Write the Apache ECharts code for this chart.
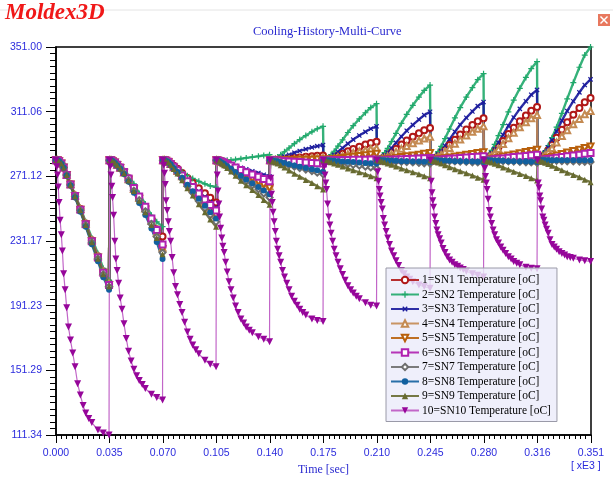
<!DOCTYPE html>
<html>
<head>
<meta charset="utf-8">
<script src="https://cdn.jsdelivr.net/npm/echarts@6/dist/echarts.min.js"></script>
<style>
  html, body { margin: 0; padding: 0; background: #fff; }
  #chart { width: 613px; height: 481px; }
</style>
</head>
<body>
<div id="chart"></div>
<script>
// time offsets inside one cycle (sec) and cycle start times (sec)
const T = [0, 1, 2, 3.5, 5, 7, 9.5, 12.5, 16, 19.5, 23.5, 27.5, 31, 34.8];
// SN10 is sampled more densely
const T10 = [0, 0.5, 1, 1.5, 2, 2.7, 3.5, 4.2, 5, 6, 7, 8.2, 9.5, 11, 12.5, 14.2, 16, 17.8, 19.5, 21.5, 23.5, 27.5, 31, 34.8];
const cycleStart = [0, 35.1, 70.2, 105.3, 140.4, 175.5, 210.6, 245.7, 280.8, 315.9];

const xTickLabels = ['0.000', '0.035', '0.070', '0.105', '0.140', '0.175', '0.210', '0.245', '0.280', '0.316', '0.351'];
const yTickLabels = ['111.34', '151.29', '191.23', '231.17', '271.12', '311.06', '351.00'];

const seriesNames = [
  '1=SN1 Temperature [oC]', '2=SN2 Temperature [oC]', '3=SN3 Temperature [oC]',
  '4=SN4 Temperature [oC]', '5=SN5 Temperature [oC]', '6=SN6 Temperature [oC]',
  '7=SN7 Temperature [oC]', '8=SN8 Temperature [oC]', '9=SN9 Temperature [oC]',
  '10=SN10 Temperature [oC]'
];

// temperatures, one row per cycle
const sn1 = [
  [281, 281, 280.5, 279, 276.6, 272.1, 266.2, 259.3, 250.9, 242, 231.7, 221.8, 212.4, 205],
  [281, 281, 280.6, 279.8, 278.6, 276.8, 274, 270, 264, 258, 251.5, 244.5, 238.5, 234],
  [281, 281, 280.7, 280.2, 279.2, 277.6, 275.8, 273.2, 270.1, 267.2, 263.8, 260.7, 257.9, 255],
  [281, 280.8, 280.5, 279.9, 279.3, 278.4, 277.1, 275.6, 273.9, 272.3, 270.6, 268.9, 267.2, 265.5],
  [281, 281, 281.1, 281.2, 281.3, 281.5, 281.8, 282.1, 282.5, 282.8, 283.2, 283.5, 283.8, 284],
  [281, 281.1, 281.3, 281.7, 282.2, 282.8, 283.9, 285.1, 286.6, 288, 289.4, 290.7, 291.7, 292.5],
  [281, 281.2, 281.5, 282.2, 283, 284.2, 286, 288.2, 290.8, 293.2, 295.6, 297.8, 299.6, 301],
  [281, 281.3, 281.7, 282.6, 283.6, 285.2, 287.5, 290.4, 293.7, 296.9, 300, 302.8, 305.2, 307],
  [281, 281.3, 281.8, 283, 284.3, 286.3, 289.3, 292.9, 297.2, 301.1, 305.1, 308.7, 311.7, 314],
  [281, 281.4, 282, 283.3, 284.9, 287.2, 290.6, 294.9, 299.9, 304.5, 309.1, 313.3, 316.8, 319.5]
];
const sn2 = [
  [281, 281, 280.6, 279.1, 276.7, 272.3, 266.6, 259.8, 251.7, 243, 233, 223.4, 214.2, 207],
  [281, 281, 280.5, 280, 279, 277, 274.5, 271, 266.5, 260.5, 254, 247, 243, 240],
  [281, 281, 280.8, 280.3, 279.5, 278, 276.3, 274, 271.5, 269.8, 268, 266.5, 265.2, 264.5],
  [281, 281, 281, 281, 281, 281, 281.2, 281.5, 282, 282.5, 283, 283.5, 284, 284.5],
  [281, 281.2, 281.5, 282.3, 283.1, 284.4, 286.3, 288.6, 291.3, 293.8, 296.3, 298.6, 300.5, 302],
  [281, 281.4, 281.9, 283.1, 284.5, 286.6, 289.8, 293.6, 298.2, 302.4, 306.6, 310.4, 313.6, 316],
  [281, 281.5, 282.2, 283.8, 285.7, 288.4, 292.6, 297.7, 303.8, 309.4, 315, 320.1, 324.2, 327.5],
  [281, 281.5, 282.3, 284.2, 286.4, 289.6, 294.4, 300.3, 307.2, 313.6, 320.1, 325.9, 330.8, 334.5],
  [281, 281.6, 282.5, 284.7, 287.1, 290.8, 296.3, 303, 310.9, 318.2, 325.5, 332.2, 337.7, 342],
  [281, 281.5, 282.3, 284.2, 286.5, 290, 295, 301.5, 310, 319, 329, 338.5, 346, 351]
];
const sn3 = [
  [281, 281, 280.5, 279, 276.5, 272, 266, 259, 250.6, 241.6, 231.2, 221.3, 211.9, 204.5],
  [281, 281, 280.5, 279.6, 278.2, 276.4, 273.7, 269.6, 263.6, 258.2, 251.7, 244.4, 237.1, 228],
  [281, 281, 280.7, 280.1, 279, 277.2, 275.2, 272.3, 268.8, 265.6, 261.9, 258.4, 255.2, 252],
  [281, 280.9, 280.7, 280.3, 279.9, 279.3, 278.5, 277.5, 276.4, 275.4, 274.3, 273.2, 272.1, 271],
  [281, 281.1, 281.2, 281.6, 282, 282.5, 283.4, 284.4, 285.7, 286.8, 287.9, 289, 289.8, 290.5],
  [281, 281.2, 281.5, 282.3, 283.1, 284.4, 286.3, 288.6, 291.3, 293.8, 296.3, 298.6, 300.5, 302],
  [281, 281.3, 281.8, 282.8, 284, 285.8, 288.5, 291.8, 295.7, 299.3, 302.9, 306.2, 308.9, 311],
  [281, 281.4, 281.9, 283.2, 284.6, 286.8, 290, 294, 298.6, 303, 307.3, 311.2, 314.5, 317],
  [281, 281.4, 282.1, 283.6, 285.4, 288, 291.9, 296.7, 302.3, 307.5, 312.8, 317.5, 321.5, 324.5],
  [281, 281.5, 282.3, 284, 286, 289, 293.5, 299, 305.5, 311.5, 317.5, 323, 327.5, 331]
];
const sn4 = [
  [281, 281, 280.5, 279, 276.6, 272.1, 266.2, 259.3, 250.9, 242, 231.7, 221.8, 212.4, 205],
  [281, 281, 280.5, 279.6, 278.2, 276.4, 273.5, 269.3, 263.3, 257.7, 251.2, 243.7, 236.3, 227],
  [281, 281, 280.7, 280, 278.7, 276.7, 274.4, 271.1, 267.1, 263.5, 259.2, 255.3, 251.6, 248],
  [281, 280.8, 280.5, 279.9, 279.2, 278.3, 277, 275.4, 273.6, 272, 270.3, 268.5, 266.8, 265],
  [281, 281, 281, 281.1, 281.2, 281.2, 281.4, 281.5, 281.7, 281.9, 282.1, 282.3, 282.4, 282.5],
  [281, 281.1, 281.2, 281.5, 281.8, 282.2, 282.9, 283.7, 284.7, 285.6, 286.5, 287.3, 288, 288.5],
  [281, 281.1, 281.4, 281.9, 282.5, 283.3, 284.6, 286.2, 288.1, 289.8, 291.6, 293.2, 294.5, 295.5],
  [281, 281.2, 281.5, 282.3, 283.1, 284.4, 286.3, 288.6, 291.3, 293.8, 296.3, 298.6, 300.5, 302],
  [281, 281.3, 281.7, 282.7, 283.8, 285.5, 288, 291.1, 294.7, 298.1, 301.4, 304.5, 307, 309],
  [281, 281.3, 281.8, 282.8, 284.1, 285.9, 288.6, 292, 296, 299.6, 303.3, 306.6, 309.4, 311.5]
];
const sn5 = [
  [281, 281, 280.5, 279, 276.5, 272, 266, 259, 250.5, 241.5, 231, 221, 211.5, 204],
  [281, 281, 280.5, 279.6, 278.1, 276.3, 273.4, 269.1, 263, 257.3, 250.6, 243.1, 235.5, 226],
  [281, 281, 280.7, 280, 278.6, 276.6, 274.2, 270.8, 266.7, 263, 258.6, 254.5, 250.7, 247],
  [281, 280.8, 280.5, 279.8, 279.1, 278.1, 276.8, 275.1, 273.2, 271.5, 269.6, 267.7, 265.9, 264],
  [281, 281, 281, 281, 281.1, 281.1, 281.1, 281.2, 281.2, 281.3, 281.3, 281.4, 281.5, 281.5],
  [281, 281, 281.1, 281.3, 281.4, 281.7, 282, 282.4, 282.8, 283.2, 283.7, 284.1, 284.6, 285],
  [281, 281, 281.1, 281.3, 281.5, 281.8, 282.1, 282.6, 283.1, 283.5, 284, 284.5, 285, 285.5],
  [281, 281.1, 281.2, 281.4, 281.6, 281.9, 282.3, 282.8, 283.3, 283.8, 284.4, 284.9, 285.5, 286],
  [281, 281.1, 281.2, 281.5, 281.7, 282.1, 282.6, 283.3, 284, 284.6, 285.4, 286.1, 286.8, 287.5],
  [281, 281.1, 281.3, 281.6, 281.9, 282.4, 283.1, 284, 284.9, 285.8, 286.7, 287.6, 288.6, 289.5]
];
const sn6 = [
  [281, 281, 280.5, 279, 276.5, 272, 266, 259, 250.5, 241.5, 231, 221, 211.5, 204],
  [281, 281, 280.5, 279.6, 278.3, 276.5, 273.8, 269.8, 263.9, 258.6, 252.3, 245.1, 237.9, 229],
  [281, 281, 280.7, 280.1, 278.8, 277, 274.8, 271.7, 268, 264.6, 260.5, 256.8, 253.4, 250],
  [281, 280.9, 280.6, 280.1, 279.6, 278.8, 277.8, 276.5, 275, 273.7, 272.3, 270.9, 269.4, 268],
  [281, 281, 280.9, 280.9, 280.8, 280.7, 280.5, 280.3, 280.1, 279.9, 279.7, 279.4, 279.2, 279],
  [281, 281, 281, 281, 281.1, 281.1, 281.1, 281.2, 281.2, 281.3, 281.3, 281.4, 281.5, 281.5],
  [281, 281, 281, 281.1, 281.2, 281.3, 281.4, 281.5, 281.7, 281.8, 282, 282.2, 282.3, 282.5],
  [281, 281, 281.1, 281.2, 281.3, 281.4, 281.6, 281.9, 282.2, 282.4, 282.7, 283, 283.2, 283.5],
  [281, 281, 281.1, 281.2, 281.4, 281.6, 281.9, 282.2, 282.6, 283, 283.3, 283.7, 284.1, 284.5],
  [281, 281, 281.1, 281.3, 281.5, 281.8, 282.1, 282.6, 283.1, 283.5, 284, 284.5, 285, 285.5]
];
const sn7 = [
  [281, 281, 280.5, 279, 276.5, 271.9, 265.8, 258.7, 250.1, 241, 230.4, 220.2, 210.6, 203],
  [281, 281, 280.5, 279.5, 278, 276.1, 273.1, 268.7, 262.3, 256.4, 249.5, 241.7, 233.8, 224],
  [281, 281, 280.6, 279.9, 278.3, 276.1, 273.4, 269.6, 265, 260.9, 255.9, 251.4, 247.2, 243],
  [281, 280.8, 280.3, 279.4, 278.5, 277.1, 275.3, 273, 270.4, 268.1, 265.6, 263.1, 260.5, 258],
  [281, 280.9, 280.7, 280.4, 280.1, 279.6, 278.9, 278, 277.1, 276.2, 275.3, 274.4, 273.4, 272.5],
  [281, 280.9, 280.9, 280.7, 280.5, 280.2, 279.8, 279.3, 278.7, 278.2, 277.7, 277.1, 276.6, 276],
  [281, 281, 280.9, 280.9, 280.8, 280.7, 280.5, 280.3, 280.1, 279.9, 279.7, 279.4, 279.2, 279],
  [281, 281, 281, 280.9, 280.8, 280.7, 280.6, 280.5, 280.3, 280.2, 280, 279.8, 279.7, 279.5],
  [281, 281, 281, 280.9, 280.8, 280.7, 280.6, 280.5, 280.3, 280.2, 280, 279.8, 279.7, 279.5],
  [281, 281, 281, 280.9, 280.9, 280.8, 280.8, 280.7, 280.5, 280.4, 280.3, 280.2, 280.1, 280]
];
const sn8 = [
  [281, 281, 280.5, 278.9, 276.4, 271.6, 265.4, 258.1, 249.3, 240, 229.1, 218.7, 208.8, 201],
  [281, 281, 280.5, 279.4, 277.8, 275.8, 272.6, 267.8, 261, 254.7, 247.3, 238.9, 230.5, 220],
  [281, 281, 280.6, 279.9, 278.5, 276.3, 273.8, 270.2, 265.9, 261.9, 257.2, 252.9, 249, 245],
  [281, 280.8, 280.4, 279.5, 278.7, 277.4, 275.8, 273.7, 271.3, 269.2, 266.9, 264.6, 262.3, 260],
  [281, 280.9, 280.8, 280.5, 280.2, 279.8, 279.3, 278.6, 277.8, 277.1, 276.3, 275.5, 274.8, 274],
  [281, 281, 280.9, 280.9, 280.8, 280.7, 280.5, 280.3, 280.1, 279.9, 279.7, 279.4, 279.2, 279],
  [281, 281, 281, 280.9, 280.9, 280.8, 280.8, 280.7, 280.5, 280.4, 280.3, 280.2, 280.1, 280],
  [281, 281, 281, 280.9, 280.9, 280.8, 280.8, 280.7, 280.5, 280.4, 280.3, 280.2, 280.1, 280],
  [281, 281, 281, 280.9, 280.9, 280.8, 280.8, 280.7, 280.5, 280.4, 280.3, 280.2, 280.1, 280],
  [281, 281, 281, 281, 281, 281, 281, 281, 281, 281, 281, 281, 281, 281]
];
const sn9 = [
  [281, 281, 280.5, 279, 276.5, 271.9, 265.8, 258.7, 250.1, 241, 230.4, 220.2, 210.6, 203],
  [281, 281, 280.5, 279.5, 278, 276, 273, 268.5, 262, 256, 249, 241, 233, 223],
  [281, 281, 280.6, 279.8, 278.1, 275.7, 272.8, 268.7, 263.8, 259.3, 253.9, 249, 244.5, 240],
  [281, 280.7, 280.2, 279.1, 278, 276.3, 274.1, 271.4, 268.4, 265.6, 262.6, 259.6, 256.5, 253.5],
  [281, 280.8, 280.5, 279.7, 279, 277.9, 276.5, 274.7, 272.7, 270.9, 268.9, 267, 265, 263],
  [281, 280.9, 280.7, 280.2, 279.8, 279.1, 278.3, 277.2, 275.9, 274.8, 273.6, 272.4, 271.2, 270],
  [281, 280.9, 280.7, 280.2, 279.8, 279.1, 278.3, 277.2, 275.9, 274.8, 273.6, 272.4, 271.2, 270],
  [281, 280.9, 280.6, 280.2, 279.7, 279, 278, 276.8, 275.5, 274.3, 273, 271.6, 270.3, 269],
  [281, 280.9, 280.6, 280.1, 279.6, 278.9, 277.9, 276.6, 275.3, 274, 272.6, 271.3, 269.9, 268.5],
  [281, 280.9, 280.6, 280.1, 279.5, 278.7, 277.6, 276.3, 274.8, 273.4, 272, 270.5, 269, 267.5]
];
const sn10 = [
  [281, 277, 272, 264.5, 255, 244, 235, 225, 211, 201, 190, 178, 170, 162, 153.5, 143, 136, 129.5, 125, 121.5, 119, 114.5, 112.5, 111.4],
  [281, 277, 272, 265, 258, 247, 231, 220, 213, 205, 196, 189, 180, 171, 163, 157, 152, 148, 145, 142.5, 140, 136.5, 134.5, 133],
  [281, 278, 273, 266, 256, 250, 243, 237, 231, 221, 211.5, 203, 198, 192, 187, 181, 175, 170.5, 167, 164, 161.5, 157.5, 155, 153.5],
  [281, 272, 262, 254, 246, 239, 233, 228, 224, 218, 212, 206, 201, 196, 191, 187, 183, 180.5, 178, 176, 174.5, 172, 170.5, 169],
  [281, 270, 260, 255, 249, 243, 237, 231, 226, 222, 218, 213, 209, 205, 201, 197, 194, 191.5, 189, 187, 185.5, 183, 182, 181.5],
  [281, 277, 272, 267, 263, 254, 246, 241, 236, 231, 226, 222, 218, 214, 210.5, 207, 203.5, 201, 199, 197, 195.5, 193, 191.5, 191],
  [281, 274, 268, 263, 259, 255, 251, 245, 241, 237, 233, 229, 225, 222, 219, 216, 213, 211, 209, 207.5, 206, 204, 203, 202],
  [281, 268, 261, 256, 252, 246, 242, 238, 235, 232.5, 230, 226.5, 224, 221.5, 219.5, 218, 216.5, 215.5, 214.5, 213.5, 212.5, 211, 210, 209],
  [281, 276, 271, 267, 263, 257, 250, 246, 242, 238, 235, 232, 230, 227.5, 225.5, 223.5, 221.5, 220, 218.5, 217.5, 216.5, 215, 214.3, 214],
  [281, 267, 264, 259, 256, 251, 246, 244, 241, 238.5, 236, 232, 229, 227.5, 226, 224.5, 223.5, 222.5, 221.5, 221, 220.5, 219.5, 219, 218.5]
];

const allSeries = [sn1, sn2, sn3, sn4, sn5, sn6, sn7, sn8, sn9, sn10];

const yMin = 111.34, yMax = 351.0;
const yStep = (yMax - yMin) / 6;

// marker / colour styles
const plus = 'path://M4,0L6,0L6,4L10,4L10,6L6,6L6,10L4,10L4,6L0,6L0,4L4,4Z';
const styles = [
  { color: '#b01818', symbol: 'emptyCircle', rot: 0 },
  { color: '#1fa86a', symbol: plus, rot: 0 },
  { color: '#1a1a9c', symbol: plus, rot: 45 },
  { color: '#c48a52', symbol: 'emptyTriangle', rot: 0 },
  { color: '#b8600c', symbol: 'emptyTriangle', rot: 180 },
  { color: '#b020b0', symbol: 'emptyRect', rot: 0 },
  { color: '#6e6e6e', symbol: 'emptyDiamond', rot: 0 },
  { color: '#12609f', symbol: 'circle', rot: 0 },
  { color: '#676a30', symbol: 'triangle', rot: 0 },
  { color: '#96069a', symbol: 'triangle', rot: 180 }
];

function buildData(rows, offsets) {
  const out = [];
  rows.forEach((row, c) => {
    row.forEach((v, i) => out.push([cycleStart[c] + offsets[i], v - yMin]));
  });
  return out;
}

const chart = echarts.init(document.getElementById('chart'));
chart.setOption({
  animation: false,
  backgroundColor: '#fff',
  title: {
    text: 'Cooling-History-Multi-Curve',
    left: 248,
    top: 20,
    textStyle: { color: '#2b2bd0', fontFamily: 'Liberation Serif', fontSize: 12.5, fontWeight: 'normal' }
  },
  grid: {
    left: 56, right: 22, top: 47, bottom: 46,
    show: true, borderColor: '#000', borderWidth: 1.5, backgroundColor: 'transparent'
  },
  legend: {
    orient: 'vertical',
    left: 386, top: 268,
    padding: [6, 6, 5, 4],
    itemWidth: 28, itemHeight: 8, itemGap: 2.5,
    backgroundColor: 'rgba(236,236,250,0.82)',
    borderColor: '#9a9aa8', borderWidth: 1,
    textStyle: { fontFamily: 'Liberation Serif', fontSize: 11.5, color: '#000', lineHeight: 12, padding: [0, 0, 0, -2] },
    data: seriesNames
  },
  xAxis: {
    type: 'value',
    min: 0, max: 351, interval: 35.1,
    name: 'Time [sec]',
    nameLocation: 'middle', nameGap: 29,
    nameTextStyle: { color: '#2b2bd0', fontFamily: 'Liberation Serif', fontSize: 12 },
    axisLine: { show: true, lineStyle: { color: '#000', width: 1.5 } },
    axisTick: { show: true, inside: false, length: 8, lineStyle: { color: '#000' } },
    minorTick: { show: true, splitNumber: 10, length: 4, lineStyle: { color: '#000' } },
    splitLine: { show: false },
    axisLabel: {
      color: '#2b2bdd', fontFamily: 'Liberation Sans', fontSize: 10.5, margin: 13,
      formatter: v => xTickLabels[Math.round(v / 35.1)]
    }
  },
  yAxis: {
    type: 'value',
    min: 0, max: yMax - yMin, interval: yStep,
    axisLine: { show: true, lineStyle: { color: '#000', width: 1.5 } },
    axisTick: { show: true, inside: false, length: 10, lineStyle: { color: '#000' } },
    minorTick: { show: true, splitNumber: 10, length: 6, lineStyle: { color: '#000' } },
    splitLine: { show: false },
    axisLabel: {
      color: '#2b2bdd', fontFamily: 'Liberation Sans', fontSize: 10.5, margin: 14,
      formatter: v => yTickLabels[Math.round(v / yStep)]
    }
  },
  graphic: [
    { type: 'line', shape: { x1: 0, y1: 10, x2: 613, y2: 10 }, style: { stroke: '#e4e4e4', lineWidth: 1 } },
    {
      type: 'text', left: 5, top: 2,
      style: { text: 'Moldex3D', fill: '#f01818', font: 'italic bold 23px "Liberation Serif"' }
    },
    { type: 'rect', shape: { x: 598, y: 14, width: 12, height: 12 }, style: { fill: '#e8785e' } },
    { type: 'line', shape: { x1: 600.5, y1: 16.5, x2: 607.5, y2: 23.5 }, style: { stroke: '#fff', lineWidth: 1.5 } },
    { type: 'line', shape: { x1: 607.5, y1: 16.5, x2: 600.5, y2: 23.5 }, style: { stroke: '#fff', lineWidth: 1.5 } },
    {
      type: 'text', left: 571, top: 461,
      style: { text: '[ xE3 ]', fill: '#2b2bdd', font: '10.5px "Liberation Sans"' }
    }
  ],
  series: allSeries.map((rows, k) => {
    const isSN10 = k === 9;
    return {
      name: seriesNames[k],
      type: 'line',
      data: buildData(rows, isSN10 ? T10 : T),
      symbol: styles[k].symbol,
      symbolSize: isSN10 ? 7 : 6,
      symbolRotate: styles[k].rot,
      lineStyle: isSN10
        ? { color: '#c266c8', width: 1.2 }
        : { color: styles[k].color, width: 2.4, opacity: 0.9 },
      itemStyle: { color: styles[k].color },
      emphasis: { disabled: true }
    };
  })
});
</script>
</body>
</html>
